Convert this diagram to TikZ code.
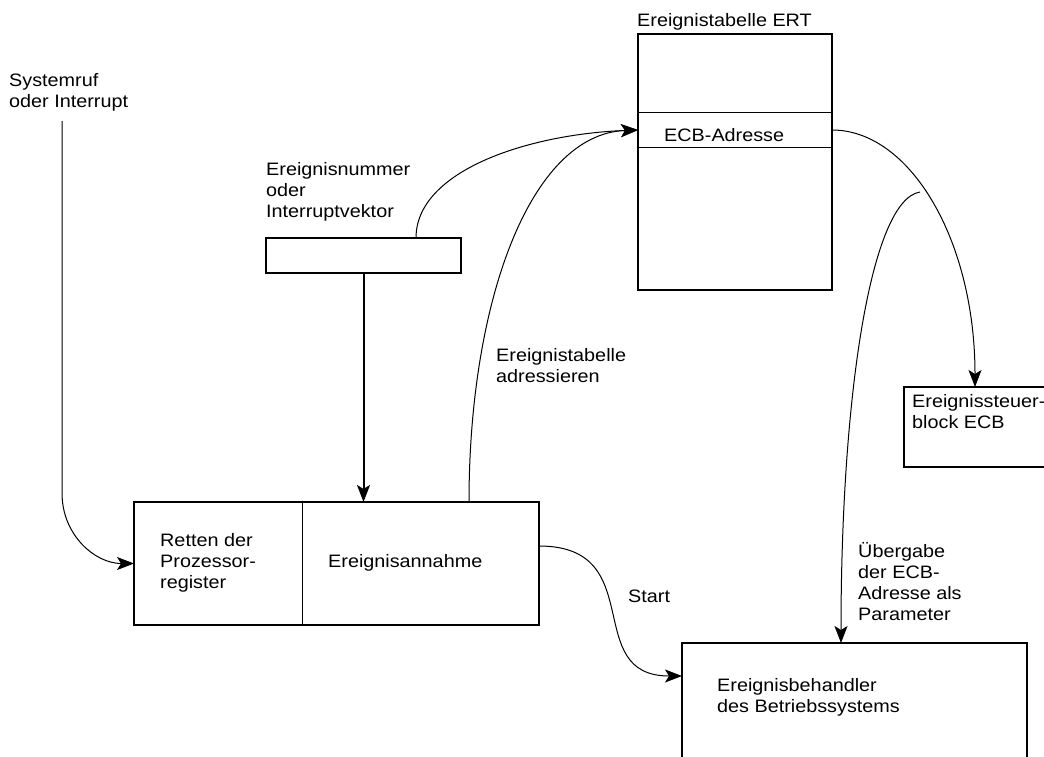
\documentclass[tikz,border=0pt]{standalone}
\usepackage{fontspec}
\setmainfont{Liberation Sans}[FakeStretch=1.1]
\usetikzlibrary{arrows.meta,calc}
\begin{document}
\begin{tikzpicture}[x=1pt,y=-1pt,
  box/.style={draw,line width=1.6pt,rectangle,anchor=north west,inner sep=0pt,outer sep=0pt},
  lbl/.style={anchor=north west,inner sep=0pt,align=left,font=\fontsize{18}{21}\selectfont,execute at begin node=\strut},
  conn/.style={line width=1pt,-{Stealth[length=17pt,width=13pt,inset=4pt]}},
  rule/.style={line width=1pt}]
\useasboundingbox (0,0) rectangle (1044,756);
\clip (0,0) rectangle (1044,756);

% boxes
\node[box,minimum width=194pt,minimum height=256pt] (ert) at (638,34) {};
\node[box,minimum width=195pt,minimum height=35pt] (ivec) at (266,238) {};
\node[box,minimum width=405pt,minimum height=123pt] (main) at (134,502) {};
\node[box,minimum width=160pt,minimum height=80pt] (ecb) at (904,387) {};
\node[box,minimum width=345pt,minimum height=140pt] (handler) at (682,643) {};

% table rows and box divider
\draw[rule] ($(ert.north west)+(0,78)$) -- ($(ert.north east)+(0,78)$);
\draw[rule] ($(ert.north west)+(0,113)$) -- ($(ert.north east)+(0,113)$);
\draw[rule] ($(main.north west)+(168,0)$) -- ($(main.south west)+(168,0)$);

% connector end points
\coordinate (ertIn) at ($(ert.north west)+(0,96)$);
\coordinate (ertOut) at ($(ert.north east)+(0,96)$);
\coordinate (ivecOut) at ($(ivec.north west)+(150,0)$);
\coordinate (mainOut) at ($(main.north west)+(335,0)$);
\coordinate (startOut) at ($(main.north east)+(0,44)$);
\coordinate (handlerIn) at ($(handler.north west)+(0,33)$);
\coordinate (handlerTop) at ($(handler.north west)+(159,0)$);
\coordinate (ecbTop) at ($(ecb.north west)+(71,0)$);
\coordinate (branch) at (920,192);
\coordinate (sysTop) at (62,121);

% connectors
\draw[conn] (sysTop) -- ++(0,372) .. controls +(0,42) and +(-39,0) .. (main.west);
\draw[conn,line width=2pt] (ivec.south) -- (ivec.south |- main.north);
\draw[conn] (ivecOut) .. controls +(0,-68) and +(-108,4) .. (ertIn);
\draw[conn] (mainOut) .. controls +(0,-200) and +(-108,4) .. (ertIn);
\draw[conn] (ertOut) .. controls +(78,0) and +(0,-147) .. (ecbTop);
\draw[conn] (branch) .. controls +(-50,8) and +(0,-243) .. (handlerTop);
\draw[conn] (startOut) .. controls +(111,0) and +(-102,0) .. (handlerIn);

% labels
\node[lbl] (tSys) at (9,73.3) {Systemruf\\oder Interrupt};
\node[lbl] (tErt) at (637,11.3) {Ereignistabelle ERT};
\node[lbl] (tEcbAdr) at (664,126.3) {ECB-Adresse};
\node[lbl] (tIvec) at (266,162.3) {Ereignisnummer\\oder\\Interruptvektor};
\node[lbl] (tSave) at (160,533.3) {Retten der\\Prozessor-\\register};
\node[lbl] (tAccept) at (328,552.3) {Ereignisannahme};
\node[lbl] (tStart) at (628,587.3) {Start};
\node[lbl] (tHandler) at (717,678.3) {Ereignisbehandler\\des Betriebssystems};
\node[lbl] (tPass) at (858,542.3) {Übergabe\\der ECB-\\Adresse als\\Parameter};
\node[lbl] (tEcb) at (912,394.3) {Ereignissteuer-\\block ECB};
\node[lbl] (tAddr) at (496,348.3) {Ereignistabelle\\adressieren};
\end{tikzpicture}
\end{document}
